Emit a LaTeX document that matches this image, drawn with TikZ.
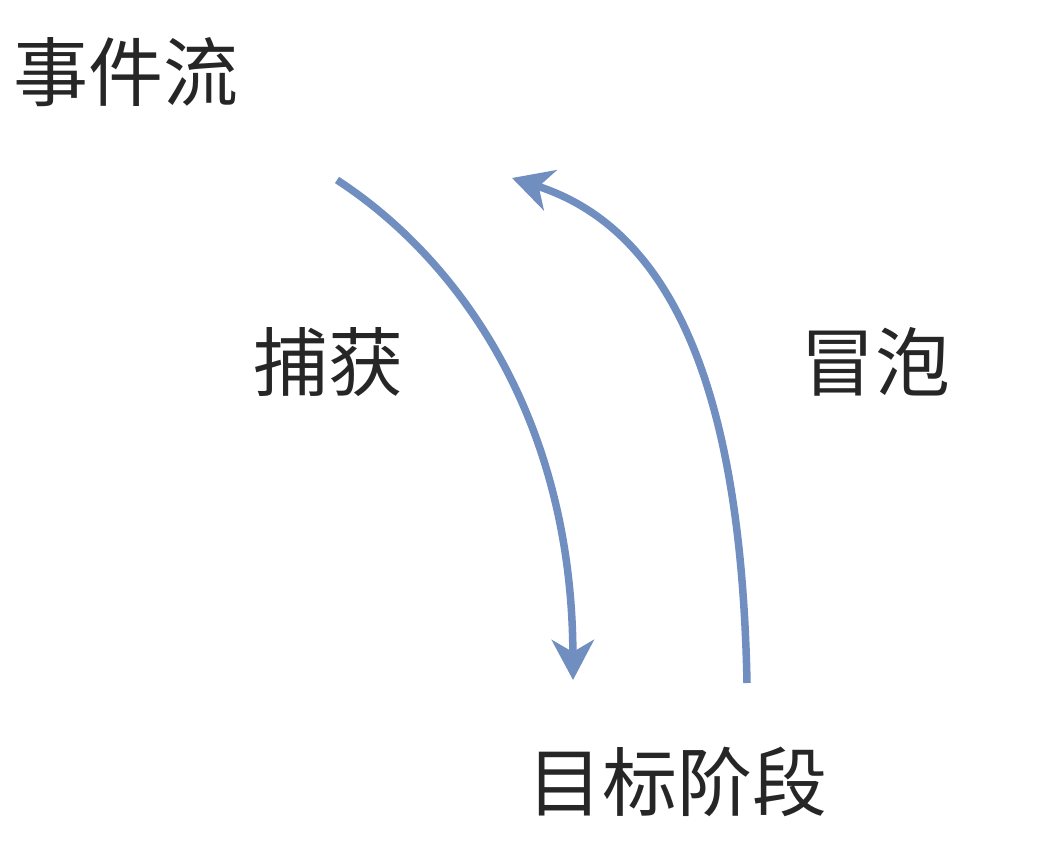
\documentclass[tikz,border=0pt]{standalone}
\usepackage{fontspec}
\newfontfamily\cjk{Noto Sans CJK SC}
\usetikzlibrary{arrows.meta}
\definecolor{flowblue}{RGB}{112,142,192}
\begin{document}
\begin{tikzpicture}[x=1pt,y=-1pt,
  label/.style={font=\cjk\fontsize{75}{80}\selectfont, inner sep=0pt, text=black!85},
  flow/.style={draw=flowblue, line width=7.5pt,
    -{Stealth[length=40pt,width=42pt,inset=12pt]}}]
  \useasboundingbox (0,0) rectangle (1052,866);
  \node[label, anchor=west] (title) at (13,72) {事件流};
  \node[label] (capture) at (328,362) {捕获};
  \node[label] (bubble) at (875,362) {冒泡};
  \node[label] (target) at (677,782) {目标阶段};
  % capture phase: from the top down to the target
  \coordinate (capStart) at (337,180);
  \coordinate (capEnd) at (573,680);
  % bubble phase: from the target back up
  \coordinate (bubStart) at (747,683);
  \coordinate (bubEnd) at (512,178);
  \draw[flow] (capStart) .. controls (460,260) and (572,420) .. (capEnd);
  \draw[flow] (bubStart) .. controls (742,430) and (690,235) .. (bubEnd);
\end{tikzpicture}
\end{document}
